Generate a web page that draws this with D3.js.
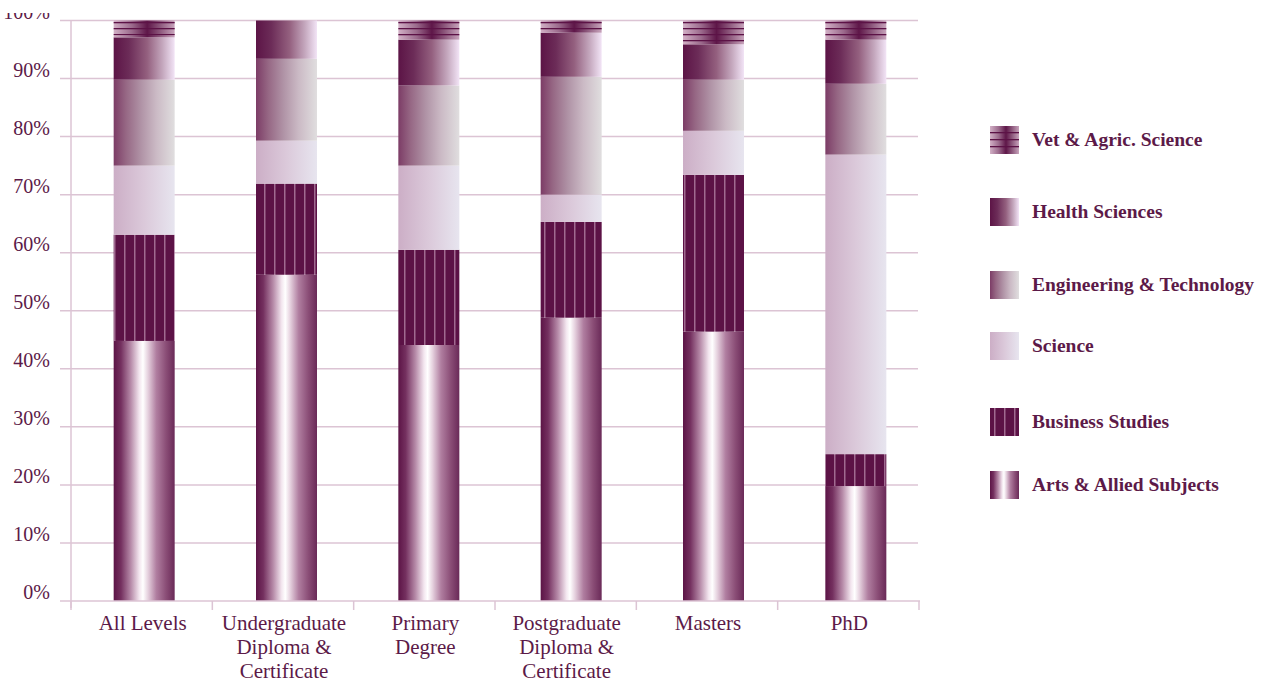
<!DOCTYPE html>
<html>
<head>
<meta charset="utf-8">
<script src="https://cdn.jsdelivr.net/npm/d3@7"></script>
<style>
  html, body { margin: 0; padding: 0; background: #fff; }
  svg { display: block; }
  text { font-family: "Liberation Serif", "DejaVu Serif", serif; fill: #5c1a48; }
</style>
</head>
<body>
<svg id="chart" width="1265" height="683"></svg>
<script>
// ---- data ----
const categories = ["All Levels", "Undergraduate Diploma & Certificate", "Primary Degree",
                    "Postgraduate Diploma & Certificate", "Masters", "PhD"];
const categoryLines = [["All Levels"], ["Undergraduate", "Diploma &", "Certificate"], ["Primary", "Degree"],
                       ["Postgraduate", "Diploma &", "Certificate"], ["Masters"], ["PhD"]];
const seriesNames = ["Arts & Allied Subjects", "Business Studies", "Science",
                     "Engineering & Technology", "Health Sciences", "Vet & Agric. Science"];
const arts        = [44.8, 56.2, 44.1, 48.8, 46.4, 19.8];
const business    = [18.3, 15.7, 16.4, 16.5, 27.0, 5.5];
const science     = [11.9, 7.4, 14.5, 4.7, 7.6, 51.6];
const engineering = [14.8, 14.1, 13.8, 20.3, 8.8, 12.2];
const health      = [7.3, 6.6, 7.9, 7.6, 6.1, 7.6];
const vet         = [2.9, 0.0, 3.3, 2.1, 4.1, 3.3];
const yTicks = [0, 10, 20, 30, 40, 50, 60, 70, 80, 90, 100];

// ---- layout ----
const svg = d3.select("#chart");
const x = d3.scaleBand().domain(categories).range([71, 919]).padding(0);
const xBar = d3.scaleBand().domain(categories).range([73, 927]).padding(0);
const y = d3.scaleLinear().domain([0, 100]).range([601, 20.5]);
const barW = 61;
const gridColor = "#dcc4d4";

const seriesArrays = [arts, business, science, engineering, health, vet];
const keys = ["arts", "business", "science", "engineering", "health", "vet"];
const rows = categories.map((c, i) => {
  const r = { cat: c };
  keys.forEach((k, j) => r[k] = seriesArrays[j][i]);
  return r;
});
const stacked = d3.stack().keys(keys)(rows);

// ---- defs: gradients and patterns ----
const defs = svg.append("defs");
function grad(id, stops) {
  const g = defs.append("linearGradient").attr("id", id)
    .attr("x1", "0%").attr("x2", "100%").attr("y1", "0%").attr("y2", "0%");
  stops.forEach(s => g.append("stop").attr("offset", s[0]).attr("stop-color", s[1]));
}
grad("g-arts", [[0, "#5c1446"], [0.12, "#74305f"], [0.28, "#b68aa8"], [0.42, "#f3e6ef"], [0.48, "#ffffff"],
                [0.56, "#e6d2df"], [0.7, "#b07ea0"], [0.86, "#8a4d76"], [1, "#6a2a58"]]);
grad("g-science", [[0, "#ccaec6"], [0.5, "#dbc9da"], [1, "#e7e5ef"]]);
grad("g-engineering", [[0, "#7c3c66"], [0.2, "#966784"], [0.45, "#b093a6"], [0.7, "#cbbac5"], [1, "#e0dedf"]]);
grad("g-health", [[0, "#5c1446"], [0.25, "#6c2c58"], [0.55, "#94607f"], [0.8, "#c4a7bd"], [1, "#f2e4f6"]]);
grad("g-vet", [[0, "#d2b0c6"], [0.3, "#9b6a8c"], [0.55, "#5e1648"], [0.75, "#8a5479"], [1, "#c8a4bc"]]);

const pBus = defs.append("pattern").attr("id", "p-business").attr("patternUnits", "userSpaceOnUse")
  .attr("width", 10).attr("height", 10);
pBus.append("rect").attr("width", 10).attr("height", 10).attr("fill", "#5c1246");
pBus.append("rect").attr("x", 4).attr("width", 1.5).attr("height", 10).attr("fill", "#a06a90");

const pVet = defs.append("pattern").attr("id", "p-vet").attr("patternUnits", "userSpaceOnUse")
  .attr("width", 10).attr("height", 6);
pVet.append("rect").attr("y", 4).attr("width", 10).attr("height", 1.3).attr("fill", "#5c1246");

const fills = { arts: "url(#g-arts)", business: "url(#p-business)", science: "url(#g-science)",
                engineering: "url(#g-engineering)", health: "url(#g-health)", vet: "url(#g-vet)" };

// ---- grid ----
svg.append("g").selectAll("line").data(yTicks.filter(d => d > 0)).join("line")
  .attr("x1", 60).attr("x2", 918)
  .attr("y1", d => y(d)).attr("y2", d => y(d))
  .attr("stroke", gridColor).attr("stroke-width", 1.5);

// ---- bars ----
const barX = c => xBar(c) + (xBar.bandwidth() - barW) / 2;
svg.append("g").selectAll("g").data(stacked).join("g")
  .each(function(layer) {
    const g = d3.select(this);
    g.selectAll("rect.main").data(layer).join("rect").attr("class", "main")
      .attr("x", d => barX(d.data.cat)).attr("width", barW)
      .attr("y", d => y(d[1])).attr("height", d => Math.max(0, y(d[0]) - y(d[1])))
      .attr("fill", fills[layer.key]);
    if (layer.key === "vet") {
      g.selectAll("rect.lines").data(layer).join("rect").attr("class", "lines")
        .attr("x", d => barX(d.data.cat)).attr("width", barW)
        .attr("y", d => y(d[1]) + 1).attr("height", d => Math.max(0, y(d[0]) - y(d[1]) - 3))
        .attr("fill", "url(#p-vet)");
    }
  });

// ---- axes ----
svg.append("line").attr("x1", 71).attr("x2", 71).attr("y1", y(100)).attr("y2", 608)
  .attr("stroke", gridColor).attr("stroke-width", 1.5);
svg.append("line").attr("x1", 60).attr("x2", 920).attr("y1", y(0)).attr("y2", y(0))
  .attr("stroke", gridColor).attr("stroke-width", 1.5);
const tickXs = categories.map(c => x(c)).concat([x.range()[1]]);
svg.append("g").selectAll("line").data(tickXs).join("line")
  .attr("x1", d => d).attr("x2", d => d).attr("y1", y(0)).attr("y2", 610)
  .attr("stroke", gridColor).attr("stroke-width", 1.5);

// y labels
defs.append("clipPath").attr("id", "clipTop").append("rect")
  .attr("x", 0).attr("y", 13).attr("width", 70).attr("height", 620);
svg.append("g").attr("clip-path", "url(#clipTop)").selectAll("text").data(yTicks).join("text")
  .attr("x", 50).attr("y", d => y(d) - 2)
  .attr("text-anchor", "end").style("font-size", "20px")
  .text(d => d + "%");

// x labels
categories.forEach((c, i) => {
  const cx = x(c) + x.bandwidth() / 2 + 1;
  const t = svg.append("text").attr("text-anchor", "middle")
    .attr("x", cx).attr("y", 630)
    .style("font-size", "21px");
  categoryLines[i].forEach((ln, j) => {
    t.append("tspan").attr("x", cx).attr("dy", j === 0 ? 0 : 24).text(ln);
  });
});

// ---- legend ----
const legendTop = [126, 198, 271, 332, 408, 471];
const legendKeys = keys.slice().reverse();
const legendNames = seriesNames.slice().reverse();
legendKeys.forEach((k, i) => {
  const g = svg.append("g");
  g.append("rect").attr("x", 990).attr("y", legendTop[i]).attr("width", 29).attr("height", 28)
    .attr("fill", fills[k]);
  if (k === "vet") {
    [6, 13, 20].forEach(o => g.append("rect").attr("x", 990).attr("y", legendTop[i] + o)
      .attr("width", 29).attr("height", 1.3).attr("fill", "#5c1246"));
  }
  g.append("text").attr("x", 1032).attr("y", legendTop[i] + 20)
    .style("font-size", "19.5px").style("font-weight", "bold").text(legendNames[i]);
});
</script>
</body>
</html>
